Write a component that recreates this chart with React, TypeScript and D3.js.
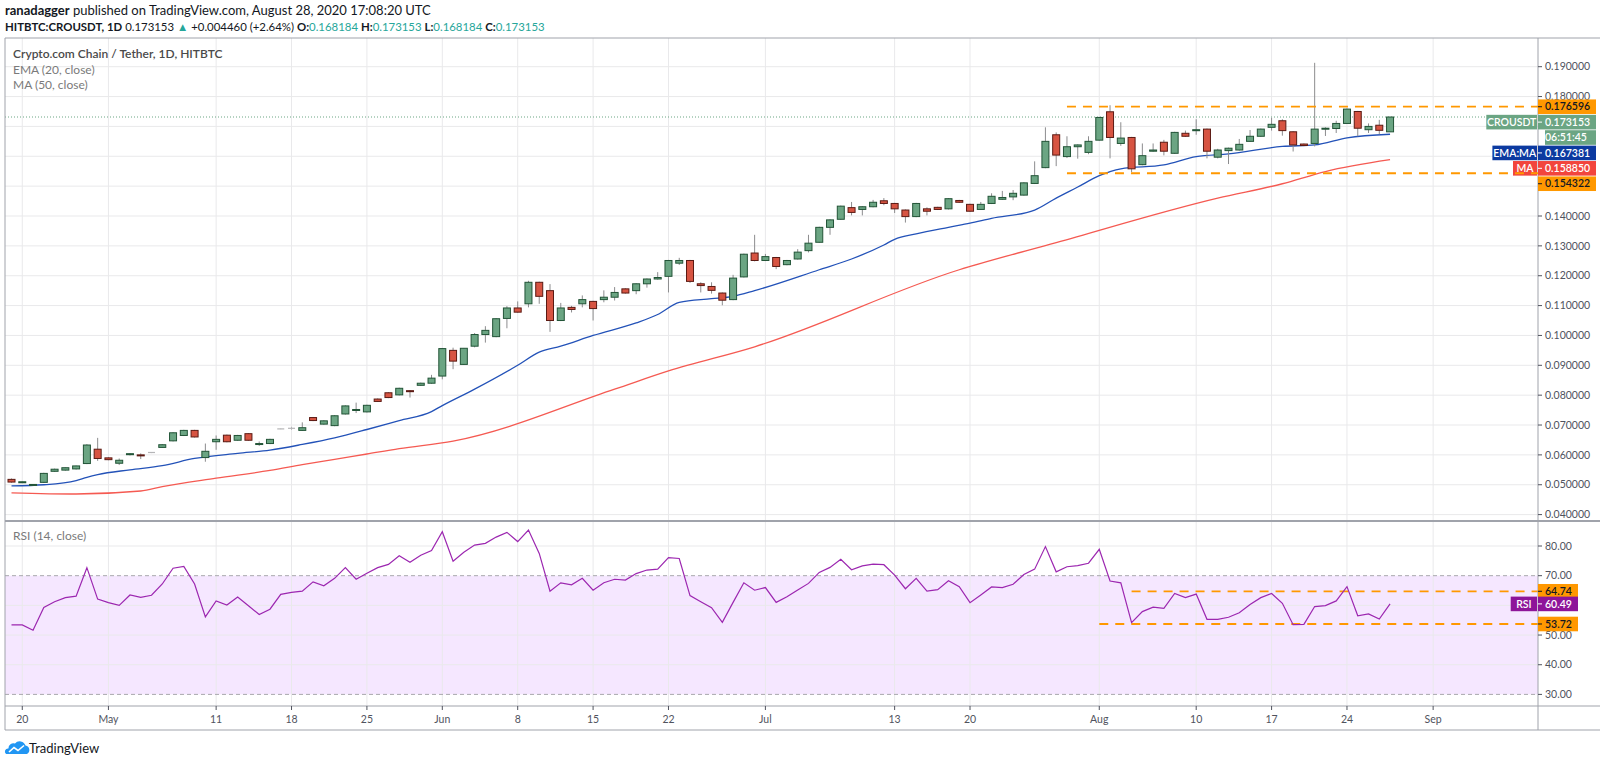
import * as d3 from "d3";
import React from "react";

// OHLC per month, [open, high, low, close]
type Bar = [number, number, number, number];

const aprCandles: Bar[] = [
  [0.0518, 0.0521, 0.0507, 0.0509], [0.0509, 0.0511, 0.0507, 0.0510], [0.0500, 0.0502, 0.0497, 0.0501],
  [0.0508, 0.0540, 0.0506, 0.0538], [0.0545, 0.0554, 0.0543, 0.0552], [0.0549, 0.0558, 0.0547, 0.0557],
  [0.0553, 0.0564, 0.0551, 0.0563], [0.0571, 0.0636, 0.0569, 0.0633], [0.0619, 0.0657, 0.0580, 0.0588],
];

const mayCandles: Bar[] = [
  [0.0590, 0.0592, 0.0582, 0.0584], [0.0572, 0.0588, 0.0566, 0.0582], [0.0602, 0.0606, 0.0598, 0.0604],
  [0.0600, 0.0605, 0.0586, 0.0599], [0.0608, 0.0609, 0.0606, 0.0608], [0.0625, 0.0636, 0.0623, 0.0634],
  [0.0647, 0.0676, 0.0645, 0.0674], [0.0665, 0.0684, 0.0663, 0.0682], [0.0682, 0.0684, 0.0658, 0.0660],
  [0.0591, 0.0638, 0.0577, 0.0612], [0.0644, 0.0665, 0.0617, 0.0652], [0.0666, 0.0668, 0.0642, 0.0644],
  [0.0649, 0.0667, 0.0647, 0.0665], [0.0671, 0.0673, 0.0647, 0.0649], [0.0637, 0.0645, 0.0630, 0.0638],
  [0.0638, 0.0654, 0.0636, 0.0652], [0.0687, 0.0688, 0.0686, 0.0687], [0.0689, 0.0694, 0.0684, 0.0689],
  [0.0682, 0.0709, 0.0680, 0.0691], [0.0725, 0.0727, 0.0713, 0.0715], [0.0703, 0.0716, 0.0701, 0.0714],
  [0.0698, 0.0733, 0.0696, 0.0731], [0.0737, 0.0766, 0.0735, 0.0764], [0.0751, 0.0775, 0.0740, 0.0752],
  [0.0744, 0.0768, 0.0742, 0.0766], [0.0787, 0.0789, 0.0777, 0.0779], [0.0808, 0.0810, 0.0790, 0.0792],
  [0.0801, 0.0825, 0.0799, 0.0823], [0.0815, 0.0817, 0.0792, 0.0812], [0.0833, 0.0842, 0.0831, 0.0840],
  [0.0840, 0.0868, 0.0838, 0.0857],
];

const junCandles: Bar[] = [
  [0.0864, 0.0958, 0.0853, 0.0956], [0.0950, 0.0959, 0.0887, 0.0914], [0.0903, 0.0958, 0.0901, 0.0957],
  [0.0964, 0.1008, 0.0960, 0.1003], [0.1003, 0.1031, 0.0976, 0.1017], [0.0996, 0.1058, 0.0994, 0.1056],
  [0.1057, 0.1098, 0.1024, 0.1092], [0.1092, 0.1114, 0.1076, 0.1078], [0.1106, 0.1183, 0.1094, 0.1178],
  [0.1178, 0.1180, 0.1106, 0.1131], [0.1150, 0.1172, 0.1012, 0.1050], [0.1050, 0.1109, 0.1048, 0.1092],
  [0.1094, 0.1099, 0.1077, 0.1087], [0.1106, 0.1134, 0.1094, 0.1120], [0.1114, 0.1116, 0.1050, 0.1090],
  [0.1120, 0.1151, 0.1111, 0.1128], [0.1128, 0.1162, 0.1117, 0.1144], [0.1156, 0.1158, 0.1140, 0.1142],
  [0.1150, 0.1175, 0.1138, 0.1173], [0.1173, 0.1191, 0.1160, 0.1189], [0.1189, 0.1212, 0.1187, 0.1194],
  [0.1198, 0.1253, 0.1144, 0.1251], [0.1242, 0.1260, 0.1236, 0.1251], [0.1251, 0.1253, 0.1176, 0.1181],
  [0.1173, 0.1178, 0.1144, 0.1167], [0.1164, 0.1178, 0.1140, 0.1151], [0.1142, 0.1144, 0.1101, 0.1118],
  [0.1120, 0.1203, 0.1118, 0.1192], [0.1196, 0.1274, 0.1194, 0.1272], [0.1276, 0.1337, 0.1248, 0.1251],
];

const julCandles: Bar[] = [
  [0.1251, 0.1273, 0.1249, 0.1264], [0.1261, 0.1263, 0.1222, 0.1231], [0.1237, 0.1253, 0.1235, 0.1251],
  [0.1256, 0.1289, 0.1254, 0.1279], [0.1284, 0.1337, 0.1278, 0.1309], [0.1312, 0.1364, 0.1310, 0.1362],
  [0.1362, 0.1389, 0.1337, 0.1387], [0.1389, 0.1435, 0.1387, 0.1433], [0.1428, 0.1447, 0.1402, 0.1412],
  [0.1422, 0.1433, 0.1402, 0.1431], [0.1431, 0.1454, 0.1429, 0.1446], [0.1451, 0.1460, 0.1436, 0.1442],
  [0.1442, 0.1444, 0.1410, 0.1424], [0.1420, 0.1422, 0.1378, 0.1398], [0.1398, 0.1444, 0.1396, 0.1442],
  [0.1424, 0.1429, 0.1402, 0.1416], [0.1429, 0.1431, 0.1420, 0.1422], [0.1424, 0.1460, 0.1422, 0.1458],
  [0.1452, 0.1454, 0.1444, 0.1446], [0.1439, 0.1441, 0.1414, 0.1416], [0.1422, 0.1447, 0.1420, 0.1439],
  [0.1442, 0.1476, 0.1440, 0.1466], [0.1456, 0.1484, 0.1454, 0.1462], [0.1464, 0.1487, 0.1453, 0.1476],
  [0.1470, 0.1513, 0.1468, 0.1511], [0.1509, 0.1583, 0.1507, 0.1535], [0.1562, 0.1697, 0.1560, 0.1650],
  [0.1672, 0.1680, 0.1567, 0.1604], [0.1599, 0.1667, 0.1594, 0.1632], [0.1632, 0.1640, 0.1592, 0.1638],
  [0.1613, 0.1667, 0.1607, 0.1650],
];

const augCandles: Bar[] = [
  [0.1654, 0.1732, 0.1652, 0.1730], [0.1749, 0.1771, 0.1593, 0.1663], [0.1643, 0.1714, 0.1635, 0.1661],
  [0.1663, 0.1665, 0.1547, 0.1558], [0.1572, 0.1643, 0.1570, 0.1602], [0.1617, 0.1643, 0.1615, 0.1621],
  [0.1647, 0.1655, 0.1603, 0.1617], [0.1610, 0.1682, 0.1608, 0.1680], [0.1677, 0.1686, 0.1665, 0.1667],
  [0.1687, 0.1724, 0.1672, 0.1689], [0.1691, 0.1693, 0.1593, 0.1617], [0.1597, 0.1625, 0.1593, 0.1621],
  [0.1619, 0.1629, 0.1574, 0.1627], [0.1621, 0.1658, 0.1619, 0.1640], [0.1650, 0.1688, 0.1648, 0.1667],
  [0.1667, 0.1693, 0.1665, 0.1691], [0.1697, 0.1729, 0.1686, 0.1707], [0.1719, 0.1724, 0.1669, 0.1686],
  [0.1682, 0.1684, 0.1616, 0.1638], [0.1641, 0.1643, 0.1634, 0.1636], [0.1643, 0.1913, 0.1633, 0.1691],
  [0.1691, 0.1697, 0.1668, 0.1694], [0.1693, 0.1719, 0.1678, 0.1710], [0.1710, 0.1760, 0.1708, 0.1758],
  [0.1750, 0.1752, 0.1667, 0.1694], [0.1689, 0.1710, 0.1678, 0.1700], [0.1704, 0.1722, 0.1674, 0.1687],
  [0.168184, 0.173153, 0.168184, 0.173153],
];

const candles: Bar[] = [...aprCandles, ...mayCandles, ...junCandles, ...julCandles, ...augCandles];

// RSI (14) per month
const rsiApr = [53.4, 53.4, 51.6, 59.3, 61.2, 62.6, 63.1, 72.7, 62.1];
const rsiMay = [60.9, 60.0, 63.5, 62.7, 63.4, 67.2, 72.5, 73.1, 67.2, 56.1, 61.5, 60.1, 62.8, 59.9, 56.9, 58.7,
  63.7, 64.4, 64.8, 67.9, 66.6, 69.1, 72.7, 68.8, 70.8, 72.7, 73.8, 76.7, 74.5, 76.9, 78.5];
const rsiJun = [84.8, 74.9, 77.9, 80.3, 80.9, 83.0, 84.6, 81.5, 85.4, 77.5, 64.8, 67.6, 66.9, 69.1, 65.1, 67.6,
  68.8, 68.5, 70.7, 71.9, 72.2, 76.1, 75.8, 63.3, 61.2, 59.2, 54.3, 61.0, 67.6, 65.1];
const rsiJul = [66.0, 61.0, 62.9, 65.2, 67.4, 71.1, 72.8, 75.5, 72.0, 73.3, 73.9, 73.7, 70.2, 65.6, 69.1, 64.8,
  65.3, 68.3, 66.3, 60.9, 63.5, 66.2, 66.0, 67.1, 70.4, 72.2, 79.8, 71.3, 73.0, 73.4, 74.2];
const rsiAug = [78.9, 68.2, 67.6, 54.2, 57.9, 59.4, 59.0, 64.0, 62.6, 63.8, 55.3, 55.3, 56.0, 57.5, 60.3, 62.6,
  64.0, 60.7, 53.5, 53.6, 59.6, 59.9, 61.5, 66.3, 56.5, 57.1, 55.4, 60.49];
const rsiValues = [...rsiApr, ...rsiMay, ...rsiJun, ...rsiJul, ...rsiAug];

// EMA 20 and MA 50 at these bar numbers
const emaBars = [0, 3, 6, 7, 8, 11, 14, 17, 21, 24, 27, 30, 33, 36, 39, 40, 43, 47, 49, 51, 54, 58, 60, 62, 65, 67,
  69, 75, 78, 81, 82, 84, 87, 89, 91, 95, 97, 99, 101, 103, 107, 110, 113, 118, 121, 124, 128];
const emaValues = [0.0496, 0.0500, 0.0514, 0.0525, 0.0534, 0.0550, 0.0564, 0.0588, 0.0605, 0.0616, 0.0635, 0.0657,
  0.0685, 0.0715, 0.0745, 0.0765, 0.0820, 0.0900, 0.0944, 0.0964, 0.1000, 0.1042, 0.1070, 0.1111, 0.1123, 0.1131,
  0.1150, 0.1220, 0.1256, 0.1303, 0.1322, 0.1340, 0.1362, 0.1376, 0.1392, 0.1420, 0.1460, 0.1497, 0.1535, 0.1558,
  0.1571, 0.1599, 0.1608, 0.1633, 0.1638, 0.1662, 0.167381];
const maBars = [0, 6, 12, 14, 19, 24, 27, 30, 33, 36, 41, 56, 61, 69, 88, 97, 112, 118, 122, 128];
const maValues = [0.0473, 0.0469, 0.0479, 0.0494, 0.0522, 0.0548, 0.0567, 0.0585, 0.0603, 0.0621, 0.0646, 0.0820,
  0.0881, 0.0962, 0.1220, 0.1311, 0.1460, 0.1508, 0.1549, 0.15885];

// time axis
const tickBars = [1, 9, 19, 26, 33, 40, 47, 54, 61, 70, 82, 89, 101, 110, 117, 124, 132];
const tickLabels = ["20", "May", "11", "18", "25", "Jun", "8", "15", "22", "Jul", "13", "20", "Aug", "10", "17", "24", "Sep"];
const priceTicks = [0.19, 0.18, 0.17, 0.16, 0.15, 0.14, 0.13, 0.12, 0.11, 0.1, 0.09, 0.08, 0.07, 0.06, 0.05, 0.04];
const rsiTicks = [80, 70, 60, 50, 40, 30];

const lastPrice = 0.173153;
const resistance = 0.176596;
const support = 0.154322;
const emaLast = 0.167381;
const maLast = 0.15885;
const levelStartBar = 98;
const rsiHigh = 64.74;
const rsiLow = 53.72;
const rsiLast = 60.49;
const rsiHighStart = 104;
const rsiLowStart = 101;

// layout
const L = 5;
const R = 1538;
const FR = 1596;
const T = 38;
const SEP = 521;
const RB = 706;
const B = 730;

const UP = "#6ba583";
const UP_B = "#225437";
const DN = "#d75442";
const DN_B = "#5b1a13";
const ORANGE = "#ff9800";
const AXIS_TXT = "#50535e";
const GRID = "#e9e9eb";
const FONT = "Lato, 'Open Sans', sans-serif";

const tagWidth = (s: string) => Math.max(24, s.length * 6.1 + 8);

const App = () => {
  const x = d3.scaleLinear().domain([0, 128]).range([11.5, 11.5 + 128 * 10.77]);
  const y = d3.scaleLinear().domain([0.04, 0.19]).range([514.6, 66.7]);
  const r = d3.scaleLinear().domain([30, 80]).range([694.4, 546]);
  const bw = 7;

  const emaPath = d3.line<number>().x((_, i) => x(emaBars[i])).y((v) => y(v)).curve(d3.curveMonotoneX)(emaValues);
  const maPath = d3.line<number>().x((_, i) => x(maBars[i])).y((v) => y(v)).curve(d3.curveMonotoneX)(maValues);
  const rsiPath = d3.line<number>().x((_, i) => x(i)).y((v) => r(v))(rsiValues);

  // price axis labels, stacked downward so they never overlap
  const lh = 15.4;
  const rawLabels = [
    { v: resistance, txt: resistance.toFixed(6), fill: ORANGE, color: "#131722" },
    { v: lastPrice, txt: lastPrice.toFixed(6), fill: UP, color: "#fff", tag: "CROUSDT" },
    { v: null as number | null, txt: "06:51:45", fill: UP, color: "#fff", narrow: true },
    { v: emaLast, txt: emaLast.toFixed(6), fill: "#0c3aa0", color: "#fff", tag: "EMA:MA" },
    { v: maLast, txt: maLast.toFixed(6), fill: "#f2453d", color: "#fff", tag: "MA" },
    { v: support, txt: support.toFixed(6), fill: ORANGE, color: "#131722" },
  ];
  let prev = -Infinity;
  const priceLabels = rawLabels.map((l) => {
    const want = l.v === null ? prev + lh : y(l.v);
    const yy = Math.max(want, prev + lh);
    prev = yy;
    return { ...l, y: yy };
  });

  const rsiLabels = [
    { v: rsiHigh, fill: ORANGE, color: "#131722" },
    { v: rsiLast, fill: "#8e1599", color: "#fff", tag: "RSI" },
    { v: rsiLow, fill: ORANGE, color: "#131722" },
  ];

  // axis values that sit under a coloured label are hidden by it
  const priceTickShown = (p: number) => priceLabels.every((l) => Math.abs(l.y - y(p)) >= 10);
  const rsiTickShown = (t: number) => rsiLabels.every((l) => Math.abs(r(l.v) - r(t)) >= 10);

  return (
    <svg width={1600} height={763} style={{ position: "absolute", left: 0, top: 0, background: "#fff" }} fontFamily={FONT}>
      <defs>
        <clipPath id="plotClip">
          <rect x={L} y={T} width={R - L} height={SEP - T} />
        </clipPath>
        <clipPath id="rsiClip">
          <rect x={L} y={SEP} width={R - L} height={RB - SEP} />
        </clipPath>
      </defs>

      {/* header */}
      <text x={5} y={15} fontSize={13} fill="#131722">
        <tspan fontWeight={700}>ranadagger</tspan> published on TradingView.com, August 28, 2020 17:08:20 UTC
      </text>
      <text x={5} y={30.5} fontSize={11.4} fill="#131722">
        <tspan fontWeight={700}>HITBTC:CROUSDT, 1D</tspan>
        <tspan> 0.173153 </tspan>
        <tspan fill="#26a69a">▲</tspan>
        <tspan> +0.004460 (+2.64%) </tspan>
        <tspan fontWeight={700}>O:</tspan><tspan fill="#26a69a">0.168184 </tspan>
        <tspan fontWeight={700}>H:</tspan><tspan fill="#26a69a">0.173153 </tspan>
        <tspan fontWeight={700}>L:</tspan><tspan fill="#26a69a">0.168184 </tspan>
        <tspan fontWeight={700}>C:</tspan><tspan fill="#26a69a">0.173153</tspan>
      </text>

      {/* RSI band */}
      <rect x={L} y={r(70)} width={R - L} height={r(30) - r(70)} fill="#9915ff" fillOpacity={0.1} />

      {/* grid */}
      {tickBars.map((b) => (
        <line key={"vg" + b} x1={x(b)} x2={x(b)} y1={T} y2={RB} stroke={GRID} />
      ))}
      {priceTicks.map((p) => (
        <line key={"hg" + p} x1={L} x2={R} y1={y(p)} y2={y(p)} stroke={GRID} />
      ))}
      {rsiTicks.filter((t) => t !== 70 && t !== 30).map((t) => (
        <line key={"rg" + t} x1={L} x2={R} y1={r(t)} y2={r(t)} stroke={GRID} />
      ))}
      {[70, 30].map((t) => (
        <line key={"rb" + t} x1={L} x2={R} y1={r(t)} y2={r(t)} stroke="#a8a8ad" strokeDasharray="4 3" />
      ))}

      {/* legends */}
      <text x={13} y={57.5} fontSize={12} fill="#4a4a4a" fontWeight={600}>Crypto.com Chain / Tether, 1D, HITBTC</text>
      <text x={13} y={74} fontSize={12} fill="#7a7a7a">EMA (20, close)</text>
      <text x={13} y={88.5} fontSize={12} fill="#7a7a7a">MA (50, close)</text>
      <text x={13} y={540} fontSize={12} fill="#7a7a7a">RSI (14, close)</text>

      {/* price pane */}
      <g clipPath="url(#plotClip)">
        <line x1={L} x2={R} y1={y(lastPrice)} y2={y(lastPrice)} stroke={UP} strokeDasharray="1 2" />
        <path d={maPath || undefined} fill="none" stroke="#f55a52" strokeWidth={1.3} />
        <path d={emaPath || undefined} fill="none" stroke="#2352b8" strokeWidth={1.3} />
        {candles.map(([o, h, l, c], i) => {
          const cx = x(i);
          const flat = Math.abs(c - o) < 0.00005;
          const up = c >= o;
          const top = y(Math.max(o, c));
          const bh = Math.max(1, y(Math.min(o, c)) - top);
          return (
            <g key={i}>
              <line x1={cx} x2={cx} y1={y(h)} y2={y(l)} stroke={flat ? "#b5b5b7" : "#8c8c8e"} strokeWidth={1} />
              {flat ? (
                <line x1={cx - bw / 2} x2={cx + bw / 2} y1={top} y2={top} stroke="#b5b5b7" strokeWidth={1.2} />
              ) : (
                <rect x={cx - bw / 2} y={top} width={bw} height={bh}
                  fill={up ? UP : DN} stroke={up ? UP_B : DN_B} strokeWidth={1} />
              )}
            </g>
          );
        })}
      </g>

      {/* RSI pane */}
      <g clipPath="url(#rsiClip)">
        <line x1={x(rsiHighStart)} x2={R} y1={r(rsiHigh)} y2={r(rsiHigh)} stroke={ORANGE} strokeWidth={1.8} strokeDasharray="9 7" />
        <line x1={x(rsiLowStart)} x2={R} y1={r(rsiLow)} y2={r(rsiLow)} stroke={ORANGE} strokeWidth={1.8} strokeDasharray="9 7" />
        <path d={rsiPath || undefined} fill="none" stroke="#9c27b0" strokeWidth={1.2} />
      </g>

      {/* frame and separators */}
      <line x1={L} x2={L} y1={T} y2={B} stroke="#a0a3ab" />
      <line x1={L} x2={1600} y1={T} y2={T} stroke="#a0a3ab" />
      <line x1={L} x2={1600} y1={B} y2={B} stroke="#a0a3ab" />
      <line x1={L} x2={1600} y1={SEP} y2={SEP} stroke="#a0a3ab" strokeWidth={2} />
      <line x1={L} x2={1600} y1={RB} y2={RB} stroke="#a0a3ab" />
      <line x1={R} x2={R} y1={T} y2={B} stroke="#a0a3ab" />

      {/* price axis */}
      {priceTicks.map((p) => (
        <g key={"pt" + p}>
          <line x1={R} x2={R + 4} y1={y(p)} y2={y(p)} stroke={AXIS_TXT} />
          {priceTickShown(p) && (
            <text x={R + 7} y={y(p)} dy="0.35em" fontSize={10.5} fill={AXIS_TXT}>{p.toFixed(6)}</text>
          )}
        </g>
      ))}
      {rsiTicks.map((t) => (
        <g key={"rt" + t}>
          <line x1={R} x2={R + 4} y1={r(t)} y2={r(t)} stroke={AXIS_TXT} />
          {rsiTickShown(t) && (
            <text x={R + 7} y={r(t)} dy="0.35em" fontSize={10.5} fill={AXIS_TXT}>{t.toFixed(2)}</text>
          )}
        </g>
      ))}

      {/* price labels */}
      {priceLabels.map((l, i) => {
        const x0 = l.narrow ? R + 7 : R;
        const tw = l.tag ? tagWidth(l.tag) : 0;
        return (
          <g key={"pl" + i}>
            <rect x={x0} y={l.y - 7.3} width={FR - x0} height={14.6} fill={l.fill} />
            {!l.narrow && <line x1={R} x2={R + 4} y1={l.y} y2={l.y} stroke={l.color} />}
            <text x={R + 7} y={l.y} dy="0.35em" fontSize={10.5} fontWeight={600} fill={l.color}>{l.txt}</text>
            {l.tag && (
              <g>
                <rect x={R - 1 - tw} y={l.y - 7.3} width={tw} height={14.6} fill={l.fill} />
                <text x={R - 1 - tw / 2} y={l.y} dy="0.35em" textAnchor="middle" fontSize={10.5} fontWeight={600} fill="#fff">{l.tag}</text>
              </g>
            )}
          </g>
        );
      })}
      {rsiLabels.map((l, i) => (
        <g key={"rl" + i}>
          <rect x={R} y={r(l.v) - 7.3} width={40} height={14.6} fill={l.fill} />
          <line x1={R} x2={R + 4} y1={r(l.v)} y2={r(l.v)} stroke={l.color} />
          <text x={R + 7} y={r(l.v)} dy="0.35em" fontSize={10.5} fontWeight={600} fill={l.color}>{l.v.toFixed(2)}</text>
          {l.tag && (
            <g>
              <rect x={R - 1 - tagWidth(l.tag)} y={r(l.v) - 7.3} width={tagWidth(l.tag)} height={14.6} fill={l.fill} />
              <text x={R - 1 - tagWidth(l.tag) / 2} y={r(l.v)} dy="0.35em" textAnchor="middle" fontSize={10.5} fontWeight={600} fill="#fff">{l.tag}</text>
            </g>
          )}
        </g>
      ))}

      {/* support / resistance drawn over the left-hand tags, as in the original */}
      <g clipPath="url(#plotClip)">
        <line x1={x(levelStartBar)} x2={R} y1={y(resistance)} y2={y(resistance)} stroke={ORANGE} strokeWidth={1.8} strokeDasharray="9 7" />
        <line x1={x(levelStartBar)} x2={R} y1={y(support)} y2={y(support)} stroke={ORANGE} strokeWidth={1.8} strokeDasharray="9 7" />
      </g>

      {/* time axis */}
      {tickBars.map((b, i) => (
        <g key={"xt" + b}>
          <line x1={x(b)} x2={x(b)} y1={RB} y2={RB + 4} stroke={AXIS_TXT} />
          <text x={x(b)} y={719.5} dy="0.35em" textAnchor="middle" fontSize={10.5} fill={AXIS_TXT}>{tickLabels[i]}</text>
        </g>
      ))}

      {/* TradingView mark */}
      <g transform="translate(6,741)">
        <path d="M0,13 H21 A4.5,4.5 0 0 0 19.5,4.6 A6,6 0 0 0 9,2.6 A5,5 0 0 0 2.4,7.4 A3.2,3.2 0 0 0 0,13 Z" fill="#2196f3" />
        <path d="M3,11 L8,6.5 L12,9.5 L18,4.5" fill="none" stroke="#fff" strokeWidth={1.6} />
      </g>
      <text x={29} y={753} fontSize={13} fill="#131722">TradingView</text>
    </svg>
  );
};

export default App;
